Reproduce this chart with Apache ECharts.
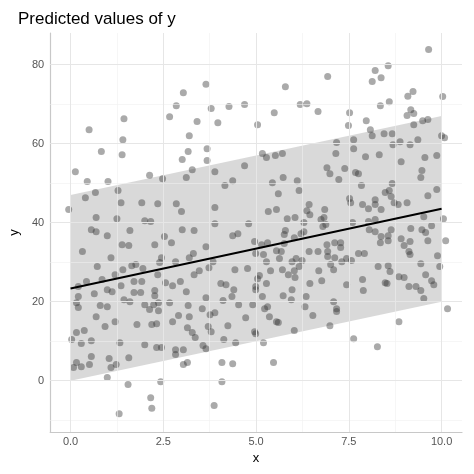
<!DOCTYPE html>
<html>
<head>
<meta charset="utf-8">
<script src="https://cdn.jsdelivr.net/npm/echarts@6/dist/echarts.min.js"></script>
<style>html,body{margin:0;padding:0;background:#fff}#chart{width:474px;height:474px}</style>
</head>
<body>
<div id="chart"></div>
<script>
// observed points [x, y]
var points = [
[3.65,75],[3.04,72.9],[2.85,69.6],[3.79,68.9],[4.27,69.4],[4.69,69.9],[1.44,66.3],[2.67,66.8],[0.5,63.5],[3.41,65.6],
[3.97,65.3],[1.41,61],[3.2,62],[0.83,58],[1.39,57.2],[3.17,58],[3.68,58.7],[3.01,56],[3.68,55.7],[0.13,52.9],
[0.45,50.4],[1.01,50.4],[2.13,52],[2.48,51.1],[3.12,51.4],[3.28,53.4],[3.89,52.9],[4.69,54.4],[4.16,49.4],[4.37,50.6],
[1.28,48.1],[0.67,47.6],[0.4,46.3],[-0.05,43.3],[1.36,45],[1.92,45],[2.35,44.8],[2.85,44.8],[2.99,42.8],[3.89,43.8],
[0.69,41.3],[1.25,41],[2,40.5],[2.16,40.3],[3.89,39.7],[4.8,39.7],[0.56,38.2],[0.69,37.7],[0.99,36.7],[1.6,38],
[2.53,36.5],[3.01,38.2],[3.33,38],[4.37,36.7],[4.51,37.2],
[9.65,83.8],[8.56,79.7],[8.21,78.5],[8.37,76.7],[8.13,75.7],[6.93,77],[5.79,74.4],[9.23,73.2],[9.09,72],[10.03,71.9],
[8.59,70.6],[8.35,69.6],[6.19,69.9],[6.37,70.1],[5.49,67.8],[6.67,68.1],[7.52,67.8],[9.17,68.6],[9.25,67.6],[9.07,67.1],
[5.04,64.8],[7.97,65.8],[7.49,64.6],[9.25,64.8],[9.49,65.8],[9.63,66.1],[8.08,63.5],[8.13,62],[8.45,62.5],[8.67,62.5],
[7.63,61],[7.17,60.3],[8.88,60.5],[8.69,59.7],[9.15,59.7],[9.36,61],[10,62],[10.08,61.5],[7.63,58.7],[5.17,57.5],
[5.28,56.5],[5.52,57],[5.71,57.5],[7.15,57.5],[7.95,56.7],[8.32,57.2],[9.55,56.5],[9.87,57],[8.91,55.4],[6.91,53.9],
[6.99,52.4],[7.39,53.7],[7.68,52.7],[7.76,52.4],[7.23,50.9],[9.47,53.2],[9.44,51.4],[5.73,51.4],[6.11,50.6],[5.44,50.1],
[7.84,49.4],[8.67,49.9],[5.6,47.3],[6.16,48.1],[8.48,47.6],[8.59,48.1],[8.64,46.6],[9.87,48.4],[9.63,46.8],[7.52,46.1],
[7.55,45],[7.87,44.6],[8.21,45.8],[8.21,44.6],[8.72,45],[8.83,44.6],[9.07,45],[6.43,44.6],[6.85,43.3],[6.37,43],
[6.45,42],[5.33,42.8],[5.55,43.3],[8.03,43.5],[8.37,43.3],[6.05,41.3],[5.84,41],[6.83,41.3],[6.75,40.8],[6.88,39.5],
[6.8,39],[6.29,40],[7.6,40],[8.03,40.3],[8.21,40.8],[9.52,41.5],[10.05,41],[9.73,39.2],[8.05,38.2],[8.21,37.7],
[8.64,38.2],[9.17,38.5],[9.47,38.2],[9.57,37.5],[5.76,37],[5.79,38],[6.03,36.2],[6.21,37.2],[6.29,37.7],[8.37,36.5],
[8.56,36.7],
[0.32,32.7],[1.39,34.4],[1.57,34.2],[2.27,34.4],[2.72,34.9],[3.65,33.9],[1.09,31.1],[0.72,28.9],[1.41,28.1],[1.65,29.1],
[1.76,29.4],[1.95,28.4],[2.45,31.1],[2.4,29.9],[2.83,30.1],[3.2,31.1],[3.31,32.2],[3.47,27.8],[3.73,28.6],[3.84,30.1],
[4.43,28.1],[4.77,28.4],[4.96,35.2],[0.43,25.1],[0.85,25.6],[1.2,26.8],[1.36,24],[1.71,25.1],[1.92,25.1],[2.35,26.8],
[2.56,24.8],[2.75,24],[2.96,25.1],[3.33,26.8],[4.05,24.6],[4.19,24.3],[0.21,23.8],[0.21,21.3],[0.16,19.7],[0.21,18.5],
[0.64,22],[0.99,23],[1.12,22.5],[1.71,22.3],[1.89,22.3],[2.27,22.8],[2.27,21.5],[1.44,20.5],[1.6,20],[2,19.2],
[2.24,19.2],[2.37,19.7],[2.13,18],[2.37,17.7],[2.67,19.7],[3.12,22.5],[3.65,21],[3.17,19],[3.55,18.2],[3.76,16.7],
[3.89,17.2],[4.11,20.3],[4.35,21.3],[4.53,19.2],[4.91,19.2],[4.4,23],[4.72,15.9],[0.8,19],[0.99,18.7],[0.69,16.2],
[1.2,14.9],[0.93,13.7],[1.79,14.2],[2.19,14.2],[2.32,14.4],[2.75,14.9],[2.91,16.5],[3.2,16.2],[3.15,13.4],[3.28,12.2],
[3.36,10.9],[3.71,13.7],[3.79,12.4],[4.24,13.9],[4.13,10.4],[4.45,9.6],[4.96,12.4],[0.16,12.2],[0.37,12.7],[0.03,10.4],
[0.29,9.4],[0.56,10.1],[1.33,9.6],[2,9.1],[2.32,8.4],[2.45,8.4],[2.83,7.8],[3.04,7.8],[2.83,6.6],[3.57,8.9],
[3.65,8.1],[0.56,6.1],[1.57,5.8],[0.16,4.6],[0.08,3.3],[0.29,3.5],[0.51,4.1],[1.04,5.6],[1.09,3.3],[1.23,4.1],
[3.04,4.1],[3.15,4.6],[4.08,4.6],[4.37,4.3],[0.99,0.8],[1.55,-1],[2.43,-0.3],[4.08,-0.3],[2.16,-4.3],[2.19,-7],
[1.31,-8.4],[3.87,-6.3],
[5.15,34.4],[5.31,34.9],[5.55,32.9],[5.68,32.7],[5.76,34.7],[4.99,32.2],[5.2,31.9],[5.28,30.1],[5.63,30.9],[5.39,27.8],
[5.04,25.8],[5.09,26.6],[5.28,24.6],[4.99,23.8],[4.99,23],[5.17,21.3],[5.71,28.1],[5.87,26.8],[5.97,30.1],[6.08,30.9],
[6.24,30.4],[6.16,28.9],[6.03,27.8],[6.05,26.1],[5.97,23],[5.73,21.5],[5.95,20.5],[6.35,21.3],[6.45,24.6],[6.43,32.7],
[6.67,32.7],[6.69,27.8],[6.77,25.3],[6.91,34.4],[6.93,32.7],[6.93,31.4],[7.12,31.1],[7.01,29.4],[7.09,28.1],[7.12,34.9],
[7.28,34.9],[7.28,33.7],[7.31,30.1],[7.44,30.9],[7.57,30.4],[7.76,32.2],[7.92,32.2],[7.44,24.3],[7.87,25.6],[7.89,22.8],
[5.31,18.7],[5.23,18.2],[5.36,16.2],[5.55,14.9],[5.6,14.7],[6.32,18.7],[6.53,16.5],[7.09,20],[7.17,18.2],[7.17,17.5],
[6.99,13.9],[6.03,12.7],[4.99,11.9],[5.2,9.6],[5.47,4.6],[7.63,10.6],[8.27,8.6],[8.85,14.9],[10.16,18.2],[9.52,20.8],
[9.79,24.3],[9.73,25.3],[9.44,22.8],[9.31,23.8],[9.12,23.8],[8.99,26.1],[8.85,26.3],[8.48,24.8],[8.53,24.6],[8.61,27.6],
[8.56,29.1],[8.29,28.9],[9.57,26.8],[9.44,29.6],[9.95,28.9],[9.89,31.6],[9.12,32.7],[9.15,31.9],[8.35,34.9],[8.56,35.4],
[8.91,35.9],[8.99,34.2],[9.15,35.2],[9.63,35.4],[10.11,35.4]
];
// fitted line and confidence band
var fitX = [0, 10];
var fitY = [23.3, 43.5];
var bandLow = [0, 20];
var bandHigh = [47, 67];
// axis ticks
var xTicks = [0, 2.5, 5, 7.5, 10];
var xMinor = [1.25, 3.75, 6.25, 8.75];
var yTicks = [0, 20, 40, 60, 80];
var yMinor = [-10, 10, 30, 50, 70];

var chart = echarts.init(document.getElementById('chart'));

function gridLines(vals, axis, width, color){
    return vals.map(function(v){
        var o = {lineStyle: {width: width, color: color, type: 'solid'}};
        o[axis] = v;
        return o;
    });
}

var lineData = fitX.map(function(x, i){ return [x, fitY[i]]; });

chart.setOption({
    animation: false,
    title: {text: 'Predicted values of y', left: 13, top: 6,
        textStyle: {fontFamily: 'Liberation Sans', fontSize: 17, fontWeight: 'normal', color: '#000'}},
    grid: {left: 45, right: 12, top: 33, bottom: 42},
    xAxis: {
        type: 'value', min: -0.55, max: 10.55,
        name: 'x', nameLocation: 'middle', nameGap: 18,
        nameTextStyle: {fontFamily: 'Liberation Sans', fontSize: 13, color: '#000'},
        axisLine: {show: true, onZero: false, lineStyle: {color: '#c8c8c8', width: 1.2}},
        axisTick: {show: false},
        splitLine: {show: false},
        axisLabel: {customValues: xTicks, color: '#555', fontSize: 11, fontFamily: 'Liberation Sans',
            margin: 4, formatter: function(v){ return v.toFixed(1); }}
    },
    yAxis: {
        type: 'value', min: -13, max: 88,
        name: 'y', nameLocation: 'middle', nameGap: 27, nameRotate: 90,
        nameTextStyle: {fontFamily: 'Liberation Sans', fontSize: 13, color: '#000'},
        axisLine: {show: true, onZero: false, lineStyle: {color: '#c8c8c8', width: 1.2}},
        axisTick: {show: false},
        splitLine: {show: false},
        axisLabel: {customValues: yTicks, color: '#555', fontSize: 11, fontFamily: 'Liberation Sans', margin: 6}
    },
    series: [
        {
            type: 'line', data: [], silent: true,
            markLine: {
                silent: true, symbol: 'none', label: {show: false},
                data: gridLines(xMinor, 'xAxis', 0.6, '#f0f0f0')
                    .concat(gridLines(yMinor, 'yAxis', 0.6, '#f0f0f0'))
                    .concat(gridLines(xTicks, 'xAxis', 1, '#e6e6e6'))
                    .concat(gridLines(yTicks, 'yAxis', 1, '#e6e6e6'))
            }
        },
        {
            type: 'custom', silent: true, z: 3,
            data: [0],
            renderItem: function(params, api){
                var pts = [];
                fitX.forEach(function(x, i){ pts.push(api.coord([x, bandLow[i]])); });
                for (var i = fitX.length - 1; i >= 0; i--) pts.push(api.coord([fitX[i], bandHigh[i]]));
                return {type: 'polygon', shape: {points: pts}, style: {fill: 'rgba(140,140,140,0.33)'}};
            }
        },
        {
            type: 'scatter', data: points, symbolSize: 7, z: 4,
            itemStyle: {color: 'rgba(50,50,50,0.52)'}
        },
        {
            type: 'line', data: lineData, symbol: 'none', z: 5,
            lineStyle: {color: '#000', width: 2}
        }
    ]
});
</script>
</body>
</html>
